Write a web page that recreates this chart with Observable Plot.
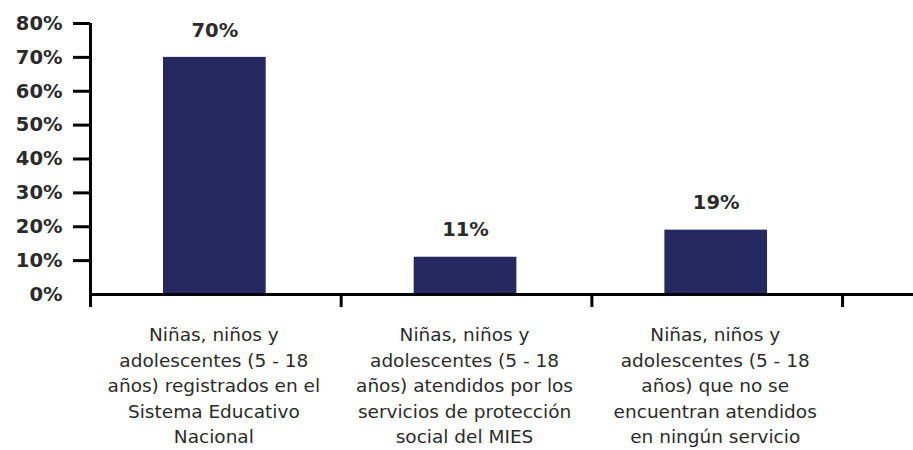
<!DOCTYPE html>
<html>
<head>
<meta charset="utf-8">
<script src="https://cdn.jsdelivr.net/npm/d3@7"></script>
<script src="https://cdn.jsdelivr.net/npm/@observablehq/plot@0.6"></script>
<style>
  body { margin: 0; background: #fff; }
  #chart svg { display: block; }
</style>
</head>
<body>
<div id="chart"></div>
<script>
const categories = [
  "Niñas, niños y\nadolescentes (5 - 18\naños) registrados en el\nSistema Educativo\nNacional",
  "Niñas, niños y\nadolescentes (5 - 18\naños) atendidos por los\nservicios de protección\nsocial del MIES",
  "Niñas, niños y\nadolescentes (5 - 18\naños) que no se\nencuentran atendidos\nen ningún servicio"
];
const values = [70, 11, 19];
const valueLabels = ["70%", "11%", "19%"];
const yTicks = [0, 10, 20, 30, 40, 50, 60, 70, 80];
const xBoundaries = [0, 1, 2, 3];

const data = categories.map((c, i) => ({ i, category: c, value: values[i], label: valueLabels[i] }));

const FONT = "'DejaVu Sans', sans-serif";

const chart = Plot.plot({
  width: 913,
  height: 450,
  marginLeft: 90,
  marginRight: 0,
  marginTop: 23,
  marginBottom: 156,
  style: { fontFamily: FONT, background: "#fff" },
  x: { type: "linear", domain: [0, 3.283], axis: null, label: null },
  y: { domain: [0, 80], axis: null, label: null },
  marks: [
    Plot.rectY(data, {
      x1: d => d.i, x2: d => d.i + 1, y1: 0, y2: "value",
      fill: "#25295f", insetLeft: 73, insetRight: 75
    }),
    Plot.text(data, {
      x: d => d.i + 0.5, y: "value", text: "label", dy: -27, dx: -1,
      fontSize: 19.5, fontWeight: "bold", fill: "#2b2b2b"
    }),
    Plot.text(data, {
      x: d => d.i + 0.5, text: "category", frameAnchor: "bottom",
      lineAnchor: "top", dy: 29, dx: -2, lineHeight: 1.37,
      fontSize: 18.5, fill: "#2b2b2b"
    }),
    Plot.axisY({
      ticks: yTicks.filter(v => v > 0), tickSize: 17, tickPadding: 11,
      strokeWidth: 3, stroke: "#000", tickFormat: d => d + "%", label: null,
      fontSize: 19.5, fontWeight: "bold", fill: "#2b2b2b"
    }),
    Plot.axisY({
      ticks: [0], tickSize: 0, tickPadding: 28, label: null,
      tickFormat: d => d + "%",
      fontSize: 19.5, fontWeight: "bold", fill: "#2b2b2b"
    }),
    Plot.axisX({
      ticks: xBoundaries, tickSize: 13, strokeWidth: 3, stroke: "#000",
      tickFormat: () => "", label: null
    }),
    Plot.ruleX([0], { stroke: "#000", strokeWidth: 3 }),
    Plot.ruleY([0], { stroke: "#000", strokeWidth: 3 })
  ]
});
document.getElementById("chart").appendChild(chart);
</script>
</body>
</html>
